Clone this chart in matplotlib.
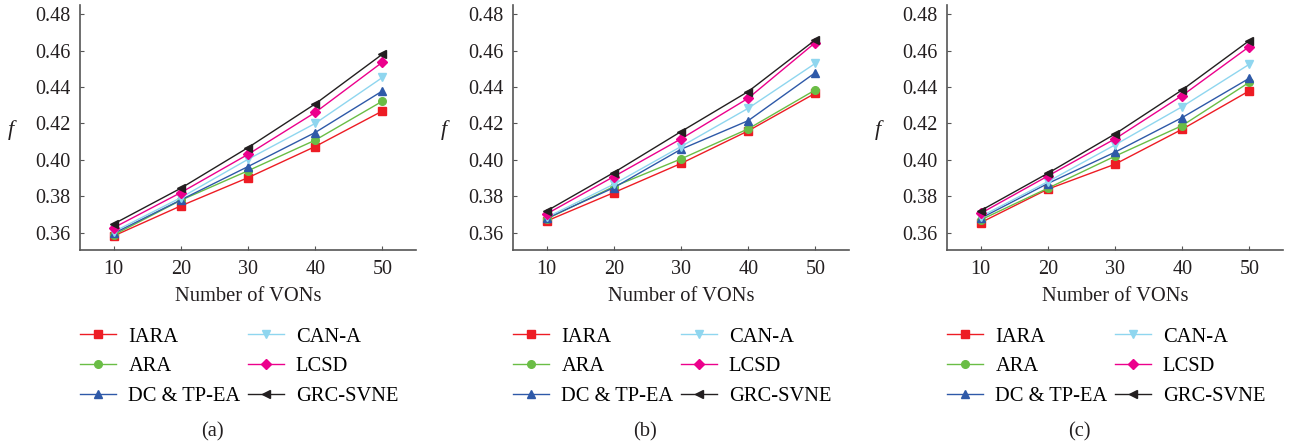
import numpy as np
import matplotlib
matplotlib.use("Agg")
import matplotlib.pyplot as plt

# data
vons = [10, 20, 30, 40, 50]
methods = ["IARA", "ARA", "DC & TP-EA", "CAN-A", "LCSD", "GRC-SVNE"]

f_a = {
    "IARA":       [0.3582, 0.3747, 0.3902, 0.4073, 0.4268],
    "ARA":        [0.3587, 0.3778, 0.3940, 0.4108, 0.4322],
    "DC & TP-EA": [0.3596, 0.3780, 0.3963, 0.4150, 0.4378],
    "CAN-A":      [0.3605, 0.3792, 0.4003, 0.4200, 0.4452],
    "LCSD":       [0.3627, 0.3820, 0.4030, 0.4260, 0.4536],
    "GRC-SVNE":   [0.3648, 0.3844, 0.4067, 0.4307, 0.4580],
}
f_b = {
    "IARA":       [0.3664, 0.3820, 0.3980, 0.4159, 0.4366],
    "ARA":        [0.3675, 0.3853, 0.4005, 0.4170, 0.4384],
    "DC & TP-EA": [0.3679, 0.3847, 0.4058, 0.4215, 0.4479],
    "CAN-A":      [0.3684, 0.3866, 0.4073, 0.4283, 0.4530],
    "LCSD":       [0.3703, 0.3908, 0.4115, 0.4338, 0.4644],
    "GRC-SVNE":   [0.3719, 0.3930, 0.4155, 0.4375, 0.4659],
}
f_c = {
    "IARA":       [0.3655, 0.3839, 0.3976, 0.4168, 0.4379],
    "ARA":        [0.3670, 0.3844, 0.4020, 0.4188, 0.4426],
    "DC & TP-EA": [0.3679, 0.3870, 0.4042, 0.4232, 0.4448],
    "CAN-A":      [0.3688, 0.3880, 0.4082, 0.4292, 0.4525],
    "LCSD":       [0.3706, 0.3911, 0.4115, 0.4353, 0.4622],
    "GRC-SVNE":   [0.3721, 0.3926, 0.4142, 0.4384, 0.4655],
}
panels = [("(a)", f_a), ("(b)", f_b), ("(c)", f_c)]

colors = {"IARA": "#ed1c24", "ARA": "#6abd45", "DC & TP-EA": "#2e59a8",
          "CAN-A": "#8fd6ef", "LCSD": "#ec008c", "GRC-SVNE": "#231f20"}
markers = {"IARA": "s", "ARA": "o", "DC & TP-EA": "^",
           "CAN-A": "v", "LCSD": "D", "GRC-SVNE": "<"}

plt.rcParams["font.family"] = ["Liberation Serif", "DejaVu Serif"]
plt.rcParams["mathtext.fontset"] = "custom"
plt.rcParams["mathtext.it"] = "Liberation Serif:italic"

fig = plt.figure(figsize=(12.9, 4.47), dpi=100)

lefts = [80, 513, 947]  # spine x positions in pixels
for (tag, data), lx in zip(panels, lefts):
    ax = fig.add_axes([lx / 1290, 1 - 250 / 447, 336 / 1290, 245 / 447])
    for m in methods:
        ax.plot(vons, data[m], color=colors[m], marker=markers[m],
                markersize=5.5 if m != "LCSD" else 5, linewidth=1.0, label=m)
    ax.set_xlim(5, 55)
    ax.set_ylim(0.3505, 0.485)
    ax.set_xticks(vons)
    ax.set_yticks(np.arange(0.36, 0.481, 0.02))
    ax.yaxis.set_major_formatter(matplotlib.ticker.FormatStrFormatter("%.2f"))
    for s in ["top", "right"]:
        ax.spines[s].set_visible(False)
    for s in ["left", "bottom"]:
        ax.spines[s].set_color("#555555")
        ax.spines[s].set_linewidth(1.2)
    ax.tick_params(direction="in", length=3, color="#555555", labelsize=14.5,
                   labelcolor="#231f20", pad=7)
    ax.set_xlabel("Number of VONs", fontsize=14.8, color="#231f20", labelpad=6)
    ax.set_ylabel("$f$", fontsize=16, rotation=0, color="#231f20")
    ax.yaxis.set_label_coords(-0.2, 0.44)
    ax.legend(loc="upper left", bbox_to_anchor=(0.0, -0.315), ncol=2,
              frameon=False, fontsize=14.8, handlelength=1.75, handletextpad=0.6,
              columnspacing=0.35, labelspacing=0.5, borderaxespad=0,
              borderpad=0)
    fig.text((lx + 132) / 1290, 1 - 432 / 447, tag, fontsize=14.8,
             ha="center", va="center", color="#231f20")

fig.savefig("out.png", dpi=100)
